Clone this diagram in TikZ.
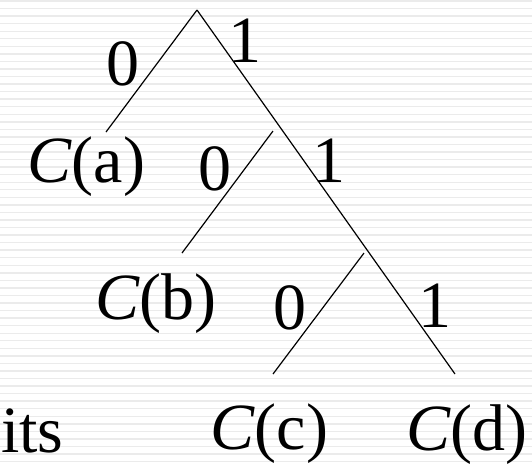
\documentclass[tikz,border=0pt]{standalone}
\usepackage{fontspec}
\setmainfont{Liberation Serif}
\newfontfamily\treefont{Liberation Serif}
\usepackage{xcolor}
\usetikzlibrary{positioning}

\definecolor{ruleline}{HTML}{EBEBEB}

\begin{document}
\begin{tikzpicture}[x=1pt, y=-1pt,
    branch/.style={draw=black, line width=1.2pt},
    bit/.style={inner sep=0pt, anchor=base, font=\treefont\fontsize{66}{70}\selectfont},
    leaf/.style={inner sep=0pt, anchor=base west, font=\treefont\fontsize{66}{70}\selectfont}
    ]
    \useasboundingbox (0,0) rectangle (532,464);
    % ruled background
    \foreach \k in {0,...,61}
        \draw[ruleline, line width=1.4pt] (0,1+7.55*\k) -- (532,1+7.55*\k);

    % tree points
    \coordinate (root) at (197,10);
    \coordinate (endA) at (106,132);
    \coordinate (n2) at (273,131);
    \coordinate (endB) at (182,253);
    \coordinate (n3) at (364,253);
    \coordinate (endC) at (273,374);
    \coordinate (endD) at (455,374);

    \draw[branch] (root) -- (endA);
    \draw[branch] (root) -- (endD);
    \draw[branch] (n2) -- (endB);
    \draw[branch] (n3) -- (endC);

    % bit labels
    \node[bit] (b1l) at (123,85) {0};
    \node[bit] (b1r) at (245,62) {1};
    \node[bit] (b2l) at (215,190) {0};
    \node[bit] (b2r) at (329,182) {1};
    \node[bit] (b3l) at (290,329) {0};
    \node[bit] (b3r) at (435,327) {1};

    % leaves
    \node[leaf] (ca) at (27,182) {\textit{C}(a)};
    \node[leaf] (cb) at (95,319) {\textit{C}(b)};
    \node[leaf] (cc) at (210,449) {\textit{C}(c)};
    \node[leaf] (cd) at (406,450) {\textit{C}(d)};
    \node[leaf] (its) at (1,452) {its};
\end{tikzpicture}
\end{document}
